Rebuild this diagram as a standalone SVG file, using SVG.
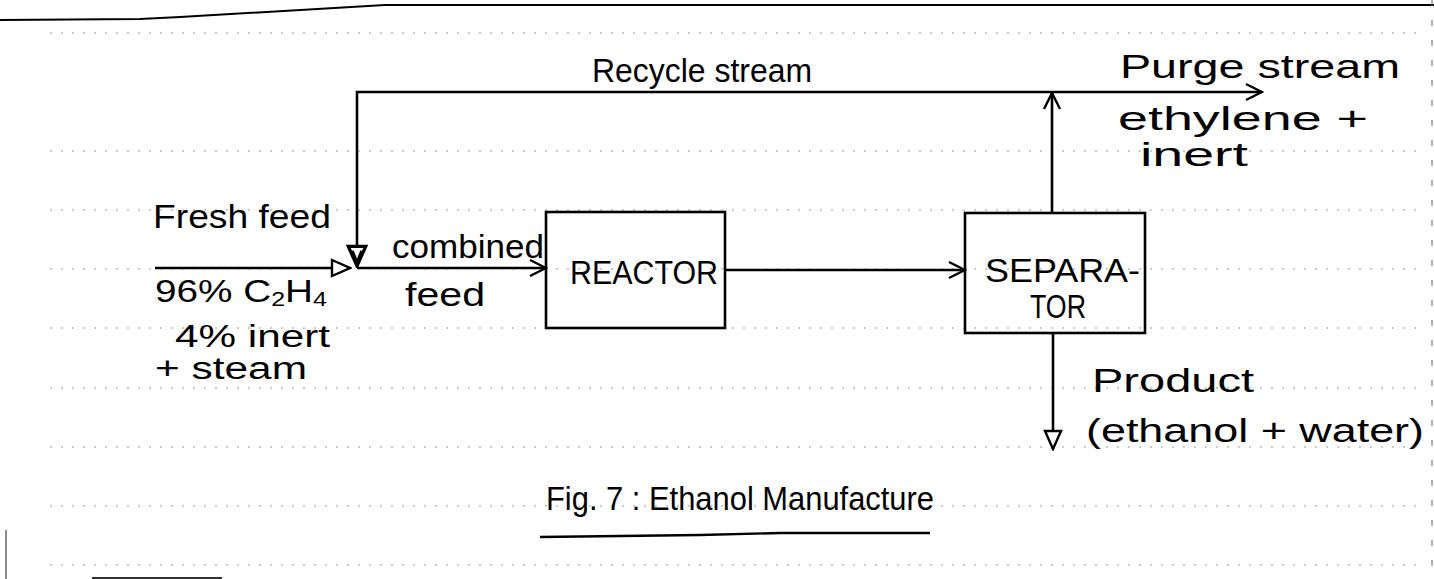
<svg xmlns="http://www.w3.org/2000/svg" width="1434" height="579" viewBox="0 0 1434 579">
<style>
.t{font-family:"Liberation Sans",Arial,sans-serif;font-size:34px;fill:#000}
.s{font-size:31px}
.box{fill:none;stroke:#000;stroke-width:2.6}
.c{fill:none;stroke:#000;stroke-width:2.6}
.rule{stroke:#999;stroke-width:1;stroke-dasharray:2 9;fill:none}
</style>
<defs>
<marker id="v" viewBox="0 0 20 20" refX="18" refY="10" markerWidth="20" markerHeight="20" markerUnits="userSpaceOnUse" orient="auto">
<path d="M2 2 L18 10 L2 18" fill="none" stroke="#000" stroke-width="2.4"/>
</marker>
<marker id="tri" viewBox="0 0 22 22" refX="20" refY="11" markerWidth="22" markerHeight="22" markerUnits="userSpaceOnUse" orient="auto">
<path d="M2 3 L20 11 L2 19 Z" fill="#fff" stroke="#000" stroke-width="2.4"/>
</marker>
<marker id="triDown" viewBox="0 0 22 22" refX="20" refY="11" markerWidth="24" markerHeight="24" markerUnits="userSpaceOnUse" orient="auto">
<path d="M2 3 L20 11 L2 19 Z" fill="#fff" stroke="#000" stroke-width="3"/>
<path d="M6 7 L16 11 L6 15" fill="none" stroke="#000" stroke-width="2"/>
</marker>
</defs>
<rect width="1434" height="579" fill="#fff"/>
<g id="page">
<path d="M0 20 L140 19 L180 17 L385 5 L1434 5" fill="none" stroke="#000" stroke-width="2"/>
<line x1="1432" y1="0" x2="1432" y2="579" stroke="#666" stroke-width="1" stroke-dasharray="6 14"/>
<line x1="6" y1="530" x2="6" y2="579" stroke="#666" stroke-width="1.5"/>
<line x1="92" y1="578" x2="222" y2="578" stroke="#333" stroke-width="2"/>
<g class="rule">
<line x1="50" y1="33" x2="1420" y2="33"/>
<line x1="50" y1="151" x2="1420" y2="151"/>
<line x1="50" y1="210" x2="1420" y2="210"/>
<line x1="50" y1="269" x2="1420" y2="269"/>
<line x1="50" y1="328" x2="1420" y2="328"/>
<line x1="50" y1="388" x2="1420" y2="388"/>
<line x1="50" y1="447" x2="1420" y2="447"/>
<line x1="50" y1="506" x2="1420" y2="506"/>
<line x1="50" y1="565" x2="1420" y2="565"/>
</g>
</g>
<g id="connectors">
<path class="c" d="M1052 92 L357 92 L357 266" marker-end="url(#triDown)"/>
<path class="c" d="M1052 92 L1262 92" marker-end="url(#v)"/>
<path class="c" d="M1052 213 L1052 93" marker-end="url(#v)"/>
<path class="c" d="M155 268 L350 268" marker-end="url(#tri)"/>
<path class="c" d="M357 268 L546 268" marker-end="url(#v)"/>
<path class="c" d="M725 270 L965 270" marker-end="url(#v)"/>
<path class="c" d="M1053 333 L1053 449" marker-end="url(#tri)"/>
</g>
<g id="reactor">
<rect class="box" x="546" y="212" width="179" height="116"/>
<text class="t" x="570" y="284" textLength="148" lengthAdjust="spacingAndGlyphs">REACTOR</text>
</g>
<g id="separator">
<rect class="box" x="965" y="213" width="180" height="120"/>
<text class="t" x="985" y="282" textLength="155" lengthAdjust="spacingAndGlyphs">SEPARA-</text>
<text class="t" x="1030" y="318" textLength="56" lengthAdjust="spacingAndGlyphs">TOR</text>
</g>
<g id="labels">
<text class="t" x="592" y="82" textLength="220" lengthAdjust="spacingAndGlyphs">Recycle stream</text>
<text class="t" x="1120" y="78" textLength="280" lengthAdjust="spacingAndGlyphs">Purge stream</text>
<text class="t" x="1118" y="130" textLength="250" lengthAdjust="spacingAndGlyphs">ethylene +</text>
<text class="t" x="1140" y="166" textLength="108" lengthAdjust="spacingAndGlyphs">inert</text>
<text class="t" x="153" y="228" textLength="178" lengthAdjust="spacingAndGlyphs">Fresh feed</text>
<text class="t" x="392" y="258" textLength="152" lengthAdjust="spacingAndGlyphs">combined</text>
<text class="t" x="405" y="306" textLength="80" lengthAdjust="spacingAndGlyphs">feed</text>
<text class="t s" x="155" y="302" textLength="172" lengthAdjust="spacingAndGlyphs">96% C<tspan font-size="20" dy="4">2</tspan><tspan dy="-4">H</tspan><tspan font-size="20" dy="4">4</tspan></text>
<text class="t s" x="175" y="347" textLength="155" lengthAdjust="spacingAndGlyphs">4% inert</text>
<text class="t s" x="155" y="379" textLength="152" lengthAdjust="spacingAndGlyphs">+ steam</text>
<text class="t" x="1092" y="392" textLength="162" lengthAdjust="spacingAndGlyphs">Product</text>
<text class="t" x="1086" y="442" textLength="338" lengthAdjust="spacingAndGlyphs">(ethanol + water)</text>
</g>
<g id="caption">
<text class="t" x="546" y="510" font-size="38" textLength="388" lengthAdjust="spacingAndGlyphs">Fig. 7 : Ethanol Manufacture</text>
<path d="M540 537 L700 535 L780 533 L930 533" fill="none" stroke="#000" stroke-width="2.4"/>
</g>
</svg>
